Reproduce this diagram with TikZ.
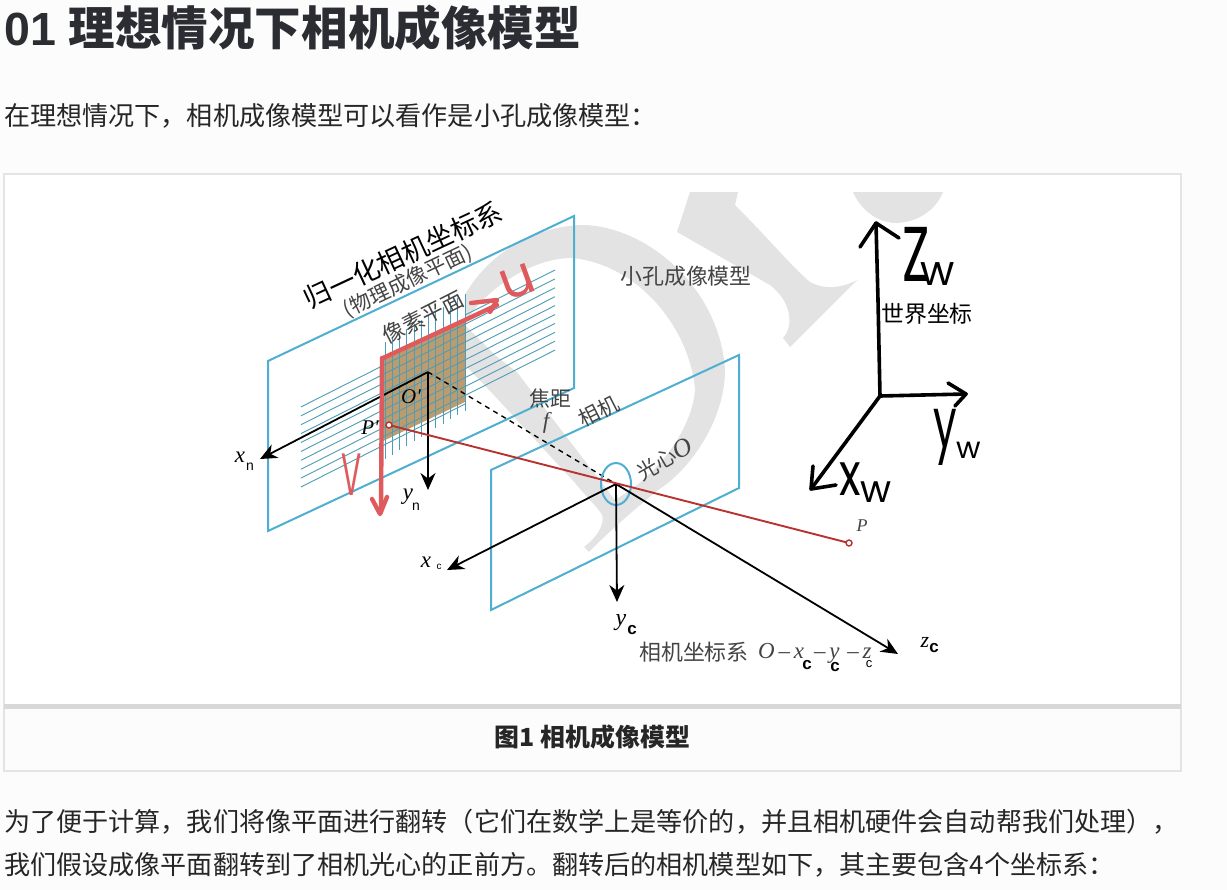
\documentclass[tikz,border=0pt]{standalone}
\usepackage{fontspec}
\setmainfont{Liberation Sans}
\newfontfamily\cjk{Noto Sans CJK SC}
\newfontfamily\hand{Poppins}
\newfontfamily\varfont{Liberation Serif}
\usetikzlibrary{arrows.meta, positioning, calc}

\definecolor{planeblue}{HTML}{4FAFD0}
\definecolor{gridteal}{HTML}{4C9DB5}
\definecolor{raydark}{HTML}{B8322F}
\definecolor{penred}{HTML}{DF5A5C}
\definecolor{inkgray}{HTML}{444444}
\definecolor{markgray}{HTML}{E3E3E3}
\definecolor{framegray}{HTML}{E4E4E4}
\definecolor{pagegray}{HTML}{FCFCFC}
\definecolor{pixbrown}{HTML}{BC9C6E}
\definecolor{titleink}{HTML}{2B2D33}

\begin{document}
\begin{tikzpicture}[
  x=1bp, y=-1bp,
  plane/.style={draw=planeblue, line width=2bp},
  grid/.style={draw=gridteal, line width=0.9bp},
  axis/.style={-{Stealth[length=17bp,width=15bp]}, line width=1.8bp},
  ray/.style={draw=raydark, line width=1.9bp},
  hold/.style={line width=3.6bp, line cap=round, line join=round},
  pen/.style={draw=penred, line width=4.4bp, line cap=round, line join=round},
  lbl/.style={font=\cjk\fontsize{21}{21}\selectfont, text=inkgray, inner sep=0pt},
  var/.style={font=\varfont\itshape\fontsize{21}{21}\selectfont, inner sep=0pt},
  subn/.style={font=\bfseries\fontsize{17}{17}\selectfont, inner sep=0pt},
  para/.style={font=\cjk\fontsize{26.2}{26.2}\selectfont, text=black!85, inner sep=0pt, anchor=west},
  handbig/.style={font=\hand\fontsize{60}{60}\selectfont, inner sep=0pt},
  handsub/.style={font=\hand\fontsize{42}{42}\selectfont, inner sep=0pt}
]

\useasboundingbox (0,0) rectangle (1227,890);
\fill[pagegray] (0,0) rectangle (1227,890);

% page text
\node (title) [anchor=west, inner sep=0pt, text=titleink] at (4,28) {\fontsize{46.7}{46.7}\selectfont\bfseries 01 \cjk\bfseries 理想情况下相机成像模型};
\node (intro) [para] at (4,116) {在理想情况下，相机成像模型可以看作是小孔成像模型：};
\node (line1) [para] at (4,822) {为了便于计算，我们将像平面进行翻转（它们在数学上是等价的，并且相机硬件会自动帮我们处理），};
\node (line2) [para] at (4,865) {我们假设成像平面翻转到了相机光心的正前方。翻转后的相机模型如下，其主要包含4个坐标系：};

% frame
\draw[framegray, line width=2bp, fill=white] (4,174) rectangle (1181,771);
\fill[pagegray] (5,708) rectangle (1180,770);
\draw[framegray!95!black, line width=5bp] (4,706.5) -- (1181,706.5);
\node (caption) [inner sep=0pt, text=black!85] at (592.5,737) {\fontsize{25}{25}\selectfont\cjk\bfseries 图1 相机成像模型};

% watermark
\fill[markgray] (465,295) .. controls (490,250) and (540,225) .. (585,225)
  .. controls (650,228) and (720,290) .. (725,370)
  .. controls (725,420) and (690,470) .. (658,490)
  .. controls (640,505) and (610,530) .. (589,552) -- (584,547)
  .. controls (600,535) and (606,520) .. (601,513)
  .. controls (595,505) and (585,495) .. (575,483)
  -- (492,393) -- (465,365) -- cycle;
\fill[white] (465,325) .. controls (475,300) and (525,258) .. (572,258)
  .. controls (640,265) and (690,330) .. (695,390)
  .. controls (692,425) and (665,465) .. (630,490)
  -- (615,500) -- (602,483) -- (517,372) -- (495,355) -- cycle;
\fill[markgray] (690,192) -- (738,192) -- (735,205)
  .. controls (770,240) and (790,265) .. (810,282)
  .. controls (825,290) and (842,288) .. (857,280)
  -- (790,347) -- (783,338)
  .. controls (795,325) and (790,300) .. (770,285)
  -- (677,232) -- cycle;
\fill[markgray] (853,192) -- (943,192) .. controls (935,212) and (915,223) .. (895,223)
  .. controls (875,222) and (860,208) .. cycle;

% planes
\coordinate (nA) at (268,361);
\coordinate (nB) at (574,216);
\coordinate (nC) at (574,388);
\coordinate (nD) at (268,531);
\draw[plane] (nA) -- (nB) -- (nC) -- (nD) -- cycle;
\coordinate (cA) at (491,470);
\coordinate (cB) at (739,355);
\coordinate (cC) at (739,488);
\coordinate (cD) at (491,610);
\draw[plane] (cA) -- (cB) -- (cC) -- (cD) -- cycle;

% pixel plane
\fill[pixbrown] (383,357) -- (465,320) -- (465,402) -- (383,441) -- cycle;
\draw[grid] (465,315) -- (555,270);
\foreach \k in {1,...,9} {
  \draw[grid] (301,398+8.9*\k) -- (555,270+8.9*\k);
}
\draw[grid] (301,487) -- (465,404);
\foreach \i in {0,1,...,11} {
  \draw[grid] (385+\i*7.27,342-4.4*\i) -- ++(0,117);
}

% axes of the image plane
\coordinate (On) at (428,372);
\coordinate (Oc) at (616,484);
\coordinate (Pp) at (389,425);
\coordinate (Pw) at (849,543);
\coordinate (xnEnd) at (260,459);
\coordinate (ynEnd) at (428,490);
\draw[axis] (On) -- (xnEnd);
\draw[axis] (On) -- (ynEnd);
\draw[dashed, line width=1.4bp, dash pattern=on 5bp off 4.5bp] (On) -- (Oc);
\node (xn) [var, font=\varfont\itshape\fontsize{23}{23}\selectfont] at (240,457) {x};
\node (xnsub) [subn, font=\fontsize{14}{14}\selectfont] at (250,467) {n};
\node (yn) [var, font=\varfont\itshape\fontsize{23}{23}\selectfont] at (408,497) {y};
\node (ynsub) [subn, font=\fontsize{14}{14}\selectfont] at (416,507) {n};

% camera axes
\draw[planeblue, line width=2bp] (Oc) ellipse [x radius=15bp, y radius=21bp];
\coordinate (xcEnd) at (447,570);
\coordinate (ycEnd) at (617,602);
\coordinate (zcEnd) at (898,654);
\draw[axis] (Oc) -- (xcEnd);
\draw[axis] (Oc) -- (ycEnd);
\draw[axis] (Oc) -- (zcEnd);

% ray
\draw[ray] (Pp) -- (Pw);
\draw[raydark, line width=1.4bp, fill=white] (Pp) circle (3bp);
\draw[raydark, line width=1.4bp, fill=white] (Pw) circle (3bp);

% hand drawn axes on the pixel plane
\draw[pen] (383,358) -- (465,320) -- (497,305);
\draw[pen] (471,303) -- (497,300) -- (490,312);
\draw[pen] (382,358) -- (381,512);
\draw[pen] (372,499) -- (380,514) -- (387,497);
\node (ulabel) [font=\hand\fontsize{54}{54}\selectfont, text=penred, inner sep=0pt, rotate=20] at (518,282) {u};
\node (vlabel) [font=\hand\fontsize{60}{60}\selectfont, text=penred, inner sep=0pt] at (352,475) {\scalebox{.5}[1]{V}};

% world axes
\coordinate (Ow) at (880,396);
\coordinate (zwEnd) at (876,223);
\coordinate (ywEnd) at (966,394);
\coordinate (xwEnd) at (811,489);
\draw[hold] (Ow) -- (878,300) -- (zwEnd);
\draw[hold] (860,247) -- (zwEnd) -- (899,238);
\draw[hold] (Ow) -- (ywEnd);
\draw[hold] (948,383) -- (ywEnd) -- (955,406);
\draw[hold] (Ow) -- (xwEnd);
\draw[hold] (813,466) -- (xwEnd) -- (836,485);
\node (zwlabel) [handbig, font=\hand\fontsize{78}{78}\selectfont] at (916,254) {\scalebox{.65}[1]{Z}};
\node (zwsub) [handsub] at (938,274) {w};
\node (ywlabel) [handbig, font=\hand\fontsize{70}{70}\selectfont] at (945,437) {\scalebox{.6}[1]{y}};
\node (ywsub) [handsub, font=\hand\fontsize{30}{30}\selectfont] at (969,450) {w};
\node (xwlabel) [handbig] at (850,479) {\scalebox{.75}[1]{x}};
\node (xwsub) [handsub, font=\hand\fontsize{38}{38}\selectfont] at (876,492) {w};
\node (world) [font=\cjk\fontsize{23}{23}\selectfont, inner sep=0pt, anchor=west] at (881,314) {世界坐标};

% labels
\node (normal) [font=\cjk\fontsize{27}{27}\selectfont, inner sep=0pt, rotate=25] at (403,255) {归一化相机坐标系};
\node (physic) [lbl, font=\cjk\fontsize{21}{21}\selectfont, rotate=25.5] at (408,281) {(物理成像平面)};
\node (pixel) [lbl, font=\cjk\fontsize{22}{22}\selectfont, rotate=27] at (423,317) {像素平面};
\node (pinhole) [lbl, font=\cjk\fontsize{22}{22}\selectfont] at (686,276) {小孔成像模型};
\node (focus) [lbl] at (550,399) {焦距};
\node (flabel) [var, text=inkgray, font=\varfont\itshape\fontsize{23}{23}\selectfont] at (546,423) {f};
\node (camera) [lbl, rotate=27] at (599,411) {相机};
\node (center) [lbl, rotate=30] at (665,459) {光心{\varfont\itshape\fontsize{26}{26}\selectfont O}};
\node (Onlabel) [var] at (411,397) {O'};
\node (Pplabel) [var] at (370,428) {P'};
\node (Plabel) [var, text=inkgray, font=\varfont\itshape\fontsize{18}{18}\selectfont] at (862,526) {P};
\node (xclabel) [var, font=\varfont\itshape\fontsize{23}{23}\selectfont] at (426,562) {x};
\node (xcsub) [inner sep=0pt, font=\fontsize{10}{10}\selectfont] at (439,567) {c};
\node (yclabel) [var, font=\varfont\itshape\fontsize{24}{24}\selectfont] at (621,623) {y};
\node (ycsub) [subn] at (632,630) {c};
\node (zclabel) [var, font=\varfont\itshape\fontsize{22}{22}\selectfont] at (925,642) {z};
\node (zcsub) [subn] at (934,648) {c};
\node (system) [lbl, font=\cjk\fontsize{22}{22}\selectfont, anchor=west] at (639,652) {相机坐标系};
\node (sysmath) [var, anchor=west, text=inkgray, font=\varfont\itshape\fontsize{23}{23}\selectfont] at (758,653) {O\,–\,x\hspace{10bp}–\,y\hspace{8bp}–\,z};
\node (sub1) [subn] at (807,665) {c};
\node (sub2) [subn] at (835,667) {c};
\node (sub3) [inner sep=0pt, font=\fontsize{13}{13}\selectfont] at (869,664) {c};

\end{tikzpicture}
\end{document}
